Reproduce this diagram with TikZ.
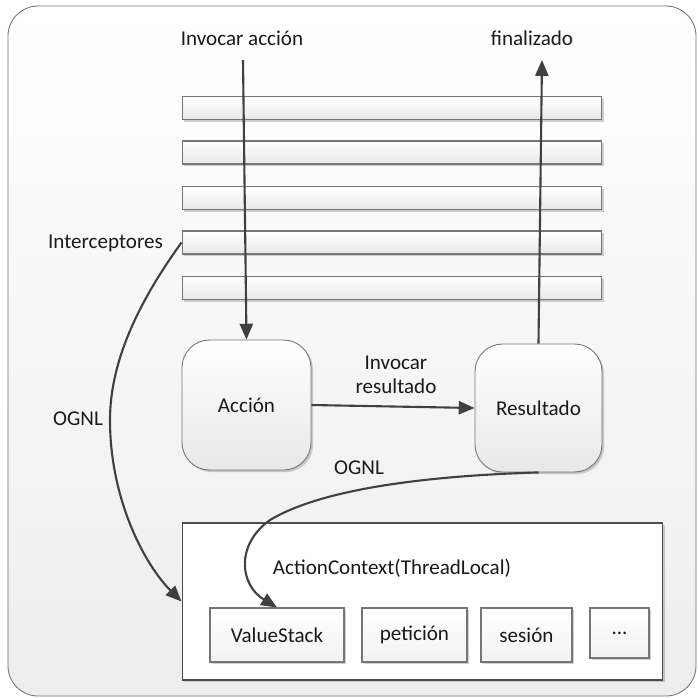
\documentclass[tikz,border=0pt]{standalone}
\usepackage{fontspec}
\setmainfont{Carlito}
\usetikzlibrary{arrows.meta,shadows}
\definecolor{linea}{HTML}{404040}
\definecolor{borde}{HTML}{767676}
\definecolor{texto}{HTML}{1A1A1A}
\tikzset{
  sombra/.style={drop shadow={shadow xshift=1.2pt, shadow yshift=-1.2pt, fill=black, opacity=0.18}},
  marco/.style={draw=borde, line width=0.5pt, rounded corners=0.6cm, top color=white, bottom color=black!7},
  barra/.style={draw=borde, line width=0.6pt, top color=white, bottom color=black!9, inner sep=0pt,
    minimum width=8.4cm, minimum height=0.46cm, sombra},
  estado/.style={draw=borde, line width=0.5pt, rounded corners=0.55cm, top color=white, bottom color=black!9,
    minimum width=2.58cm, minimum height=2.6cm, font=\fontsize{12}{14}\selectfont, text=texto, sombra},
  contexto/.style={draw=black!70, line width=0.6pt, fill=white, minimum width=9.62cm, minimum height=3.14cm, sombra},
  celda/.style={draw=borde, line width=0.6pt, top color=white, bottom color=black!5, minimum height=1.08cm,
    inner sep=0pt, font=\fontsize{12}{14}\selectfont, text=texto, sombra},
  etq/.style={font=\fontsize{12}{14}\selectfont, text=texto, inner sep=1pt},
  flecha/.style={draw=linea, line width=1.2pt, -{Triangle[length=9pt,width=7.5pt]}},
}

\begin{document}
\begin{tikzpicture}[x=0.02cm, y=-0.02cm]
  \useasboundingbox (0,0) rectangle (698,698);
  \path[marco] (8,6) rectangle (696,696);
  % pila de interceptores
  \foreach \i/\y in {1/108,2/152.5,3/198,4/242.5,5/288}
    \node[barra] (barra\i) at (392,\y) {};
  % accion y resultado
  \node[estado] (accion) at (246.5,405) {Acción};
  \node[estado, minimum width=2.54cm, minimum height=2.56cm] (resultado) at (538.5,408) {Resultado};
  % ActionContext con sus partes
  \node[contexto] (ctx) at (422.5,601.5) {};
  \node[etq] (ctxlbl) at (392,568) {ActionContext(ThreadLocal)};
  \node[celda, minimum width=2.68cm] (vstack) at (277,635) {ValueStack};
  \node[celda, minimum width=2.1cm] (peticion) at (414.5,635) {petición};
  \node[celda, minimum width=1.82cm] (sesion) at (526.5,635) {sesión};
  \node[celda, minimum width=1.18cm, minimum height=1cm] (otros) at (619.5,633) {...};
  % textos sueltos
  \node[etq] (invocar) at (242,38) {Invocar acción};
  \node[etq] (fin) at (532,38) {finalizado};
  \node[etq, align=center] (invres) at (396,375) {Invocar\\resultado};
  \node[etq] (interc) at (105.5,243) {Interceptores};
  \node[etq] (ognl1) at (78,419) {OGNL};
  \node[etq] (ognl2) at (359,468) {OGNL};
  % flujo
  \coordinate (entrada) at (243,60);
  \coordinate (salida) at (542,60);
  \draw[flecha] (entrada) -- (accion.north);
  \draw[flecha] (resultado.north) -- (salida);
  \draw[flecha] (accion.east) -- (resultado.west);
  \draw[flecha] (barra4.west) .. controls (140,300) and (110,360) .. (110,420)
    .. controls (110,500) and (145,565) .. (ctx.west);
  \draw[flecha] (resultado.south) .. controls (420,476) and (320,490) .. (270,520)
    .. controls (235,545) and (240,585) .. (vstack.north);
\end{tikzpicture}
\end{document}
